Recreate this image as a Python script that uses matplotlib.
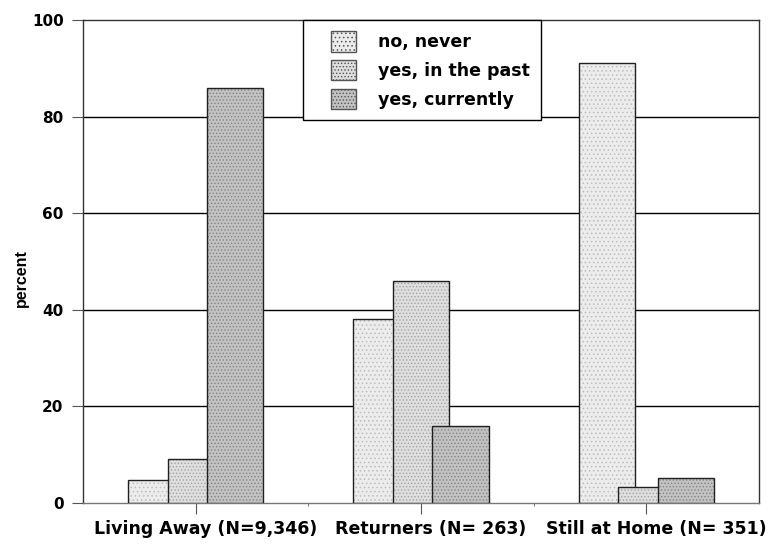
import numpy as np
import matplotlib
matplotlib.use('Agg')
import matplotlib.pyplot as plt
import matplotlib.transforms as mtransforms
from matplotlib.patches import Patch, Rectangle
from matplotlib.legend_handler import HandlerPatch

# data
groups = ['Living Away (N=9,346)', 'Returners (N= 263)', 'Still at Home (N= 351)']
series = ['no, never', 'yes, in the past', 'yes, currently']
never = [4.8, 38, 91.2]
past = [9, 46, 3.3]
current = [86, 16, 5.2]
values = [never, past, current]

face = ['#ececec', '#dedede', '#c2c2c2']
dots = ['#bdbdbd', '#a4a4a4', '#858585']
hatches = ['....', '.....', '.....']

plt.rcParams['font.family'] = ['DejaVu Sans']
plt.rcParams['font.weight'] = 'bold'
plt.rcParams['hatch.linewidth'] = 0.6

fig = plt.figure(figsize=(7.69, 5.46), dpi=100)
ax = fig.add_axes([0.108, 0.079, 0.879, 0.884])

x = np.arange(len(groups))
step = 0.175
width = 0.25

for i, vals in enumerate(values):
    pos = x + (i - 1) * step
    # textured fill, then black outline on top
    ax.bar(pos, vals, width, color=face[i], edgecolor=dots[i], linewidth=0,
           hatch=hatches[i], zorder=2 + 2 * i)
    ax.bar(pos, vals, width, fill=False, edgecolor='#202020', linewidth=1.0,
           zorder=3 + 2 * i)

ax.set_xlim(-0.5, 2.5)
ax.set_ylim(0, 100)
ax.set_yticks([0, 20, 40, 60, 80, 100])
ax.set_xticks(x)
ax.set_xticklabels(groups, fontsize=12.5, fontweight='bold')
ax.set_xticks([0.5, 1.5], minor=True)
ax.tick_params(axis='x', which='minor', length=2, color='#555555')
ax.tick_params(axis='x', which='major', length=8, color='#555555', pad=4)
ax.tick_params(axis='y', length=8, color='#555555', labelsize=11, pad=6)
for lab in ax.get_yticklabels():
    lab.set_fontweight('bold')

# x labels sit a little right of their ticks in the reference
shift = mtransforms.ScaledTranslation(10 / 100, 0, fig.dpi_scale_trans)
for lab in ax.get_xticklabels():
    lab.set_transform(lab.get_transform() + shift)

ax.set_ylabel('percent', fontsize=11.5, fontweight='bold',
              family='Liberation Sans')
ax.yaxis.set_label_coords(-0.08, 0.466)

for yv in [20, 40, 60, 80]:
    ax.axhline(yv, color='black', linewidth=1.0, zorder=1)

for s in ax.spines.values():
    s.set_color('#333333')
    s.set_linewidth(1.0)
ax.spines['bottom'].set_color('#777777')


def right_box(legend, orig_handle, xdescent, ydescent, width, height, fontsize):
    bw = width * 0.6
    return Rectangle((width - bw - xdescent, -ydescent), bw, height)


handles = [Patch(facecolor=face[i], edgecolor='#555555', hatch=hatches[i],
                 linewidth=1.0) for i in range(3)]
leg = ax.legend(handles, series, loc='upper left', bbox_to_anchor=(0.325, 1.0),
                fancybox=False, framealpha=1, edgecolor='black',
                prop={'size': 12.5, 'weight': 'bold'},
                handler_map={Patch: HandlerPatch(patch_func=right_box)},
                handlelength=2.4, handleheight=1.4, handletextpad=1.3,
                borderpad=0.65, labelspacing=0.5, borderaxespad=0)
leg.get_frame().set_linewidth(1.0)
leg.set_zorder(20)

fig.savefig('out.png', dpi=100)
